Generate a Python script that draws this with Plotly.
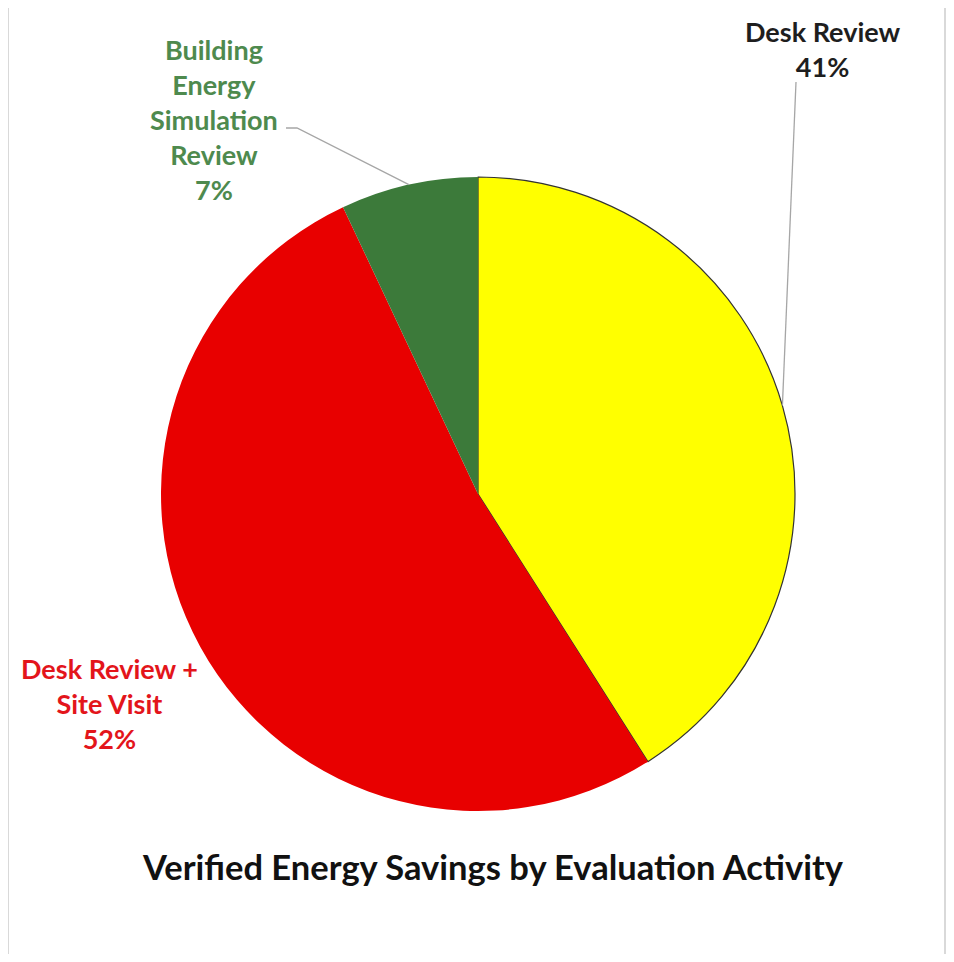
import math
import plotly.graph_objects as go

# ---- data ----
categories = ["Desk Review", "Desk Review +<br>Site Visit", "Building<br>Energy<br>Simulation<br>Review"]
shares = [41, 52, 7]
slice_colors = ["#FFFF00", "#E80000", "#3C7A3A"]
label_colors = ["#1E1E1E", "#E3151B", "#4E8A4E"]
title_text = "Verified Energy Savings by Evaluation Activity"

# page has an 8px body margin, so the figure is shrunk and shifted
OFF = 8
W, H = 954 - 2 * OFF, 962 - 2 * OFF
# pie placement (reference pixels)
CX, CY, R = 478, 494, 317

def px(x):
    return (x - OFF) / W

def py(y):
    return 1 - (y - OFF) / H

fig = go.Figure()
fig.add_trace(go.Pie(
    labels=[c.replace("<br>", " ") for c in categories],
    values=shares,
    sort=False,
    direction="clockwise",
    rotation=0,
    textinfo="none",
    hoverinfo="label+percent",
    marker=dict(colors=slice_colors,
                line=dict(color=["#333333", "rgba(0,0,0,0)", "rgba(0,0,0,0)"], width=[1.2, 0, 0])),
    domain=dict(x=[px(CX - R), px(CX + R)], y=[py(CY + R), py(CY - R)]),
    showlegend=False,
))

# slice mid-angle points on the rim (from the data)
total = sum(shares)
mids = []
acc = 0
for v in shares:
    a = (acc + v / 2) / total * 2 * math.pi
    mids.append((CX + R * math.sin(a), CY - R * math.cos(a)))
    acc += v

# label placement (reference pixel centres of text blocks)
label_pos = [(823, 49), (109, 703), (214, 119)]
font_fam = "Lato, 'Open Sans', sans-serif"
for i, cat in enumerate(categories):
    x, y = label_pos[i]
    fig.add_annotation(
        x=px(x), y=py(y), xref="paper", yref="paper",
        text=f"<b>{cat}<br>{shares[i]}%</b>",
        showarrow=False, align="center",
        font=dict(family=font_fam, size=27, color=label_colors[i]),
        xanchor="center", yanchor="middle",
    )

shapes = []
# leader line: Desk Review
mx, my = mids[0]
shapes.append(dict(type="line", xref="paper", yref="paper",
                   x0=px(mx), y0=py(my), x1=px(796), y1=py(82),
                   line=dict(color="#A6A6A6", width=1.3)))
# leader line: Building Energy Simulation Review (with elbow)
gx, gy = mids[2]
shapes.append(dict(type="path", xref="paper", yref="paper",
                   path=f"M {px(gx)},{py(gy)} L {px(297)},{py(128)} L {px(286)},{py(128)}",
                   line=dict(color="#A6A6A6", width=1.3)))
# chart frame (bottom edge runs off the picture)
shapes.append(dict(type="path", xref="paper", yref="paper",
                   path=f"M {px(8)},{py(970)} L {px(8)},{py(7)} L {px(945)},{py(7)} L {px(945)},{py(970)}",
                   line=dict(color="#D9D9D9", width=2), layer="below"))

fig.add_annotation(
    x=px(493), y=py(866), xref="paper", yref="paper",
    text=f"<b>{title_text}</b>", showarrow=False,
    font=dict(family=font_fam, size=34.5, color="#111111"),
    xanchor="center", yanchor="middle",
)

fig.update_layout(
    width=W, height=H,
    margin=dict(l=0, r=0, t=0, b=0),
    paper_bgcolor="white", plot_bgcolor="white",
    shapes=shapes,
)

fig.write_html("out.html")
